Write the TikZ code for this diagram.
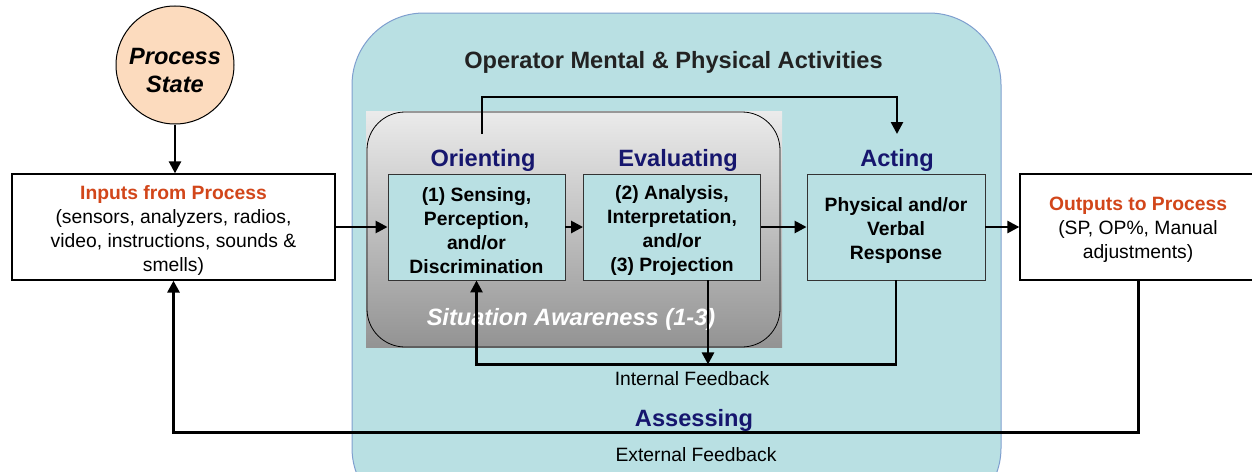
\documentclass[tikz,border=0pt]{standalone}
\usepackage{fontspec}
\setmainfont{Liberation Sans}
\usetikzlibrary{arrows.meta,calc}
\definecolor{teal1}{HTML}{B9E0E3}
\definecolor{tealedge}{HTML}{7F9FCF}
\definecolor{peach}{HTML}{FCDBBE}
\definecolor{navy1}{HTML}{16166E}
\definecolor{orng}{HTML}{D2461A}
\definecolor{graytop}{HTML}{EBEBEB}
\definecolor{graybot}{HTML}{939393}
\definecolor{titlegray}{HTML}{222222}
\begin{document}
\begin{tikzpicture}[x=1pt,y=-1pt,
  txt/.style={font=\fontsize{19.3}{24}\selectfont, align=center, inner sep=0pt},
  boldtxt/.style={font=\fontsize{19.3}{24}\selectfont\bfseries, align=center, inner sep=0pt},
  heading/.style={font=\fontsize{23.6}{28}\selectfont\bfseries, inner sep=0pt},
  stagelabel/.style={heading, text=navy1},
  stagebox/.style={draw=black!80, line width=0.9pt, fill=teal1, minimum width=177pt, minimum height=106pt, inner sep=0pt},
  iobox/.style={draw=black, line width=1.3pt, fill=white, minimum height=106pt, inner sep=0pt},
  arr/.style={line width=2.6pt, -{Triangle[length=12pt,width=12pt]}}]
\useasboundingbox (0,0) rectangle (1252,471);
\fill[white] (0,0) rectangle (1252,471);
\clip (0,0) rectangle (1252,471);

% operator container
\draw[draw=tealedge, line width=1pt, fill=teal1, rounded corners=72pt] (352,13) rectangle (1001,520);
\node[heading, text=titlegray] (title) at (673.5,62.5) {Operator Mental \& Physical Activities};

% situation awareness container
\path[top color=graytop, bottom color=graybot] (366,111) rectangle (782,347);
\draw[black, line width=0.8pt, rounded corners=38pt] (367,112) rectangle (780,347);
\node[heading, font=\fontsize{23.6}{28}\selectfont\bfseries\itshape, text=white] (salabel) at (571,319) {Situation Awareness (1-3)};

% process state
\node[circle, draw=black, line width=1pt, fill=peach, minimum size=118pt, inner sep=0pt] (ps) at (175,65) {};
\node[align=center, inner sep=0pt, font=\fontsize{23.6}{28}\selectfont\bfseries\itshape] (pst) at ([yshift=-5pt]ps.center) {Process\\State};

% boxes
\node[iobox, minimum width=323pt] (inp) at (173.5,227) {};
\node[txt] (inpt) at ([yshift=-3.5pt]inp.center) {{\bfseries\color{orng}Inputs from Process}\\(sensors, analyzers, radios,\\video, instructions, sounds \&\\smells)};
\node[stagebox] (b1) at (476.5,227) {};
\node[boldtxt] (b1t) at ([yshift=-3.5pt]b1.center) {(1) Sensing,\\Perception,\\and/or\\Discrimination};
\node[stagebox] (b2) at (672,227) {};
\node[boldtxt] (b2t) at ([yshift=-3.5pt]b2.center) {(2) Analysis,\\Interpretation,\\and/or\\(3) Projection};
\node[stagebox, minimum width=178pt] (act) at (896,227) {};
\node[boldtxt] (actt) at ([yshift=-3.5pt]act.center) {Physical and/or\\Verbal\\Response};
\node[iobox, minimum width=236pt] (out) at (1138,227) {};
\node[txt] (outt) at ([yshift=-3pt]out.center) {{\bfseries\color{orng}Outputs to Process}\\(SP, OP\%, Manual\\adjustments)};

% stage labels
\node[stagelabel] (lor) at (483,160.5) {Orienting};
\node[stagelabel] (lev) at (678,160.5) {Evaluating};
\node[stagelabel] (lac) at (897,160.5) {Acting};
\node[stagelabel] (las) at (694,420.5) {Assessing};

% connectors
\draw[arr] (ps.south) -- (ps.south |- inp.north);
\draw[arr] (inp.east) -- (b1.west);
\draw[arr] (b1.east) -- (b2.west);
\draw[arr] (b2.east) -- (act.west);
\draw[arr] (act.east) -- (out.west);

\coordinate (tls) at (482,134);
\coordinate (acttip) at (897,134);
\draw[arr] (tls) -- ++(0,-37) -| (acttip);

\draw[arr] (act.south) -- ++(0,84) -| (b1.south);
\coordinate (b2out) at ([xshift=36pt]b2.south);
\draw[arr] (b2out) -- ++(0,84);

\draw[arr, line width=3pt] (out.south) -- ++(0,152) -| (inp.south);

\node[txt] (intfb) at (692,379) {Internal Feedback};
\node[txt] (extfb) at (696,455) {External Feedback};
\end{tikzpicture}
\end{document}
